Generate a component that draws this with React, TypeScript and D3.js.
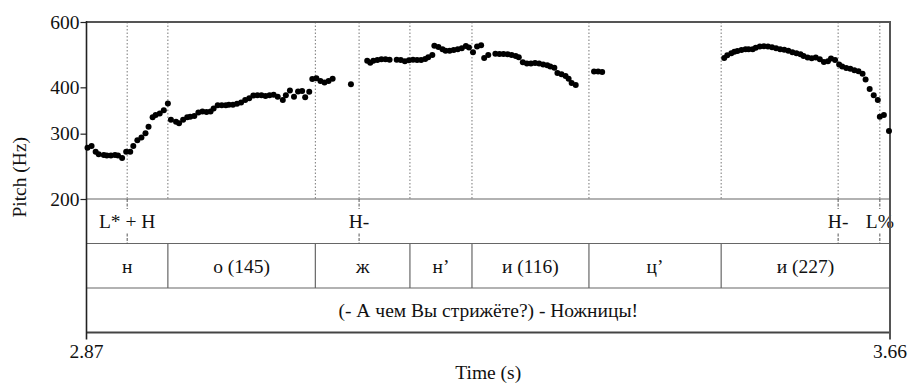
import { useEffect, useRef } from "react"
import * as d3 from "d3"

// pitch track (time in s, F0 in Hz)
const times = [
  2.871, 2.875, 2.879, 2.882, 2.887, 2.890, 2.894, 2.898, 2.901, 2.905,
  2.909, 2.913, 2.916, 2.920, 2.924, 2.928, 2.931, 2.935, 2.938, 2.942, 2.946, 2.950,
  2.953, 2.958, 2.961, 2.965, 2.969, 2.972, 2.976, 2.980, 2.984, 2.988, 2.992, 2.995,
  2.999, 3.003, 3.007, 3.010, 3.014, 3.018, 3.022, 3.026, 3.030, 3.034, 3.038, 3.042,
  3.046, 3.050, 3.054, 3.058, 3.063, 3.066, 3.070, 3.074, 3.078, 3.082, 3.085, 3.089,
  3.092, 3.096, 3.100, 3.104, 3.108, 3.112,
  3.130,
  3.146, 3.149, 3.152, 3.156, 3.160, 3.164, 3.168, 3.175, 3.179, 3.183, 3.187, 3.191,
  3.195, 3.199, 3.203, 3.206, 3.210, 3.212, 3.216, 3.220, 3.223, 3.227, 3.231, 3.235,
  3.239, 3.243, 3.246, 3.250, 3.254, 3.258, 3.261, 3.265, 3.272, 3.276, 3.280, 3.284,
  3.288, 3.292, 3.295, 3.299, 3.303, 3.307, 3.311, 3.315, 3.319, 3.323, 3.326, 3.330,
  3.333, 3.337, 3.341, 3.344, 3.347, 3.351,
  3.369, 3.373, 3.377,
  3.497, 3.500, 3.504, 3.507, 3.510, 3.514, 3.518, 3.521, 3.525, 3.528, 3.532, 3.536,
  3.540, 3.544, 3.548, 3.552, 3.556, 3.560, 3.564, 3.568, 3.572, 3.575, 3.579, 3.583,
  3.587, 3.591, 3.595, 3.599, 3.602, 3.606, 3.610, 3.613, 3.617, 3.621, 3.625, 3.629,
  3.633, 3.636, 3.640, 3.644, 3.648, 3.650, 3.654, 3.659,
]
const pitch = [
  275, 278, 268, 264, 263, 262, 262, 263, 262, 258,
  268, 268, 278, 288, 293, 301, 313, 332, 337, 340, 347, 362,
  327, 323, 320, 327, 332, 333, 335, 342, 344, 343, 344, 351,
  358, 358, 358, 359, 359, 361, 364, 370, 374, 380, 381, 381,
  379, 381, 382, 377, 370, 381, 392, 377, 390, 391, 376, 389,
  421, 423, 416, 412, 416, 422,
  408,
  472, 466, 472, 474, 476, 476, 475, 475, 474, 470, 473, 475,
  474, 474, 477, 482, 489, 518, 514, 507, 502, 502, 504, 507,
  510, 517, 512, 497, 515, 519, 480, 489, 493, 492, 492, 491,
  489, 486, 482, 467, 464, 464, 465, 464, 461, 459, 455, 452,
  437, 434, 429, 422, 411, 406,
  441, 441, 440,
  480, 488, 494, 499, 501, 504, 507, 507, 507, 511, 515, 516,
  515, 513, 510, 507, 505, 502, 497, 494, 491, 486, 481, 479,
  481, 476, 468, 470, 478, 474, 461, 455, 451, 449, 445, 442,
  435, 420, 396, 381, 370, 333, 337, 305,
]

// tone tier (points)
const toneTimes = [2.910, 3.138, 3.609, 3.650]
const toneLabels = ["L* + H", "H-", "H-", "L%"]

// segment tier (interval boundaries)
const segBounds = [2.87, 2.950, 3.095, 3.188, 3.249, 3.364, 3.494, 3.66]
const segLabels = ["н", "о (145)", "ж", "н’", "и (116)", "ц’", "и (227)"]

const sentence = "(- А чем Вы стрижёте?) - Ножницы!"
const yTicks = [200, 300, 400, 600]
const tStart = 2.87
const tEnd = 3.66

export default function App() {
  const svgRef = useRef<SVGSVGElement>(null)

  useEffect(() => {
    if (!svgRef.current) return
    const W = 909
    const H = 383
    const left = 86.5
    const right = 890
    const top = 22
    const pitchBottom = 199
    const tierH = 44.5
    const fs = 19.5

    const svg = d3
      .select(svgRef.current)
      .attr("width", W)
      .attr("height", H)
      .style("font-family", "'Liberation Serif', 'Times New Roman', serif")
    svg.selectAll("*").remove()

    const x = d3.scaleLinear().domain([tStart, tEnd]).range([left, right])
    const y = d3.scaleLog().domain([200, 600]).range([pitchBottom, top])
    const tierTop = (i: number) => pitchBottom + i * tierH
    const bottom = tierTop(3)

    // dotted boundary lines through pitch area
    const allBounds = [...toneTimes, ...segBounds.slice(1, -1)]
    svg
      .append("g")
      .selectAll("line")
      .data(allBounds)
      .enter()
      .append("line")
      .attr("x1", (d) => x(d))
      .attr("x2", (d) => x(d))
      .attr("y1", top)
      .attr("y2", pitchBottom)
      .attr("stroke", "#777")
      .attr("stroke-width", 1)
      .attr("stroke-dasharray", "1.5,2")

    // tier separators
    svg
      .append("g")
      .selectAll("line")
      .data([0, 1, 2])
      .enter()
      .append("line")
      .attr("x1", left)
      .attr("x2", right)
      .attr("y1", (d) => tierTop(d))
      .attr("y2", (d) => tierTop(d))
      .attr("stroke", "#666")
      .attr("stroke-width", 1.2)

    // tone tier: ticks at top and bottom, labels centred
    const tones = svg.append("g")
    toneTimes.forEach((t, i) => {
      tones
        .append("line")
        .attr("x1", x(t))
        .attr("x2", x(t))
        .attr("y1", tierTop(0))
        .attr("y2", tierTop(0) + 10)
        .attr("stroke", "#555")
        .attr("stroke-dasharray", "3,1.5")
      tones
        .append("line")
        .attr("x1", x(t))
        .attr("x2", x(t))
        .attr("y1", tierTop(1) - 10)
        .attr("y2", tierTop(1))
        .attr("stroke", "#555")
        .attr("stroke-dasharray", "3,1.5")
      tones
        .append("text")
        .attr("x", x(t))
        .attr("y", tierTop(0) + tierH / 2)
        .attr("dy", "0.35em")
        .attr("text-anchor", "middle")
        .attr("font-size", fs)
        .attr("fill", "#111")
        .text(toneLabels[i])
    })

    // segment tier
    const segs = svg.append("g")
    segBounds.slice(1, -1).forEach((b) => {
      segs
        .append("line")
        .attr("x1", x(b))
        .attr("x2", x(b))
        .attr("y1", tierTop(1))
        .attr("y2", tierTop(2))
        .attr("stroke", "#666")
        .attr("stroke-width", 1.2)
    })
    segLabels.forEach((lab, i) => {
      segs
        .append("text")
        .attr("x", (x(segBounds[i]) + x(segBounds[i + 1])) / 2)
        .attr("y", tierTop(1) + tierH / 2)
        .attr("dy", "0.35em")
        .attr("text-anchor", "middle")
        .attr("font-size", fs)
        .attr("fill", "#111")
        .text(lab)
    })

    // sentence tier
    svg
      .append("text")
      .attr("x", (left + right) / 2)
      .attr("y", tierTop(2) + tierH / 2)
      .attr("dy", "0.35em")
      .attr("text-anchor", "middle")
      .attr("font-size", fs)
      .attr("fill", "#111")
      .text(sentence)

    // frame
    svg
      .append("line")
      .attr("x1", left)
      .attr("x2", right)
      .attr("y1", top)
      .attr("y2", top)
      .attr("stroke", "#555")
      .attr("stroke-width", 2)
    svg
      .append("line")
      .attr("x1", left)
      .attr("x2", right + 1)
      .attr("y1", bottom)
      .attr("y2", bottom)
      .attr("stroke", "#444")
      .attr("stroke-width", 2)
    svg
      .append("line")
      .attr("x1", left)
      .attr("x2", left)
      .attr("y1", top - 1)
      .attr("y2", bottom + 7)
      .attr("stroke", "#222")
      .attr("stroke-width", 1.6)
    svg
      .append("line")
      .attr("x1", right)
      .attr("x2", right)
      .attr("y1", top - 1)
      .attr("y2", bottom + 7)
      .attr("stroke", "#555")
      .attr("stroke-width", 2)

    // y axis
    const yAxis = svg
      .append("g")
      .attr("transform", `translate(${left},0)`)
      .call(
        d3
          .axisLeft(y)
          .tickValues(yTicks)
          .tickFormat((d) => String(d))
          .tickSize(6)
          .tickSizeOuter(0),
      )
    yAxis.attr("font-family", null).attr("font-size", null)
    yAxis.select(".domain").remove()
    yAxis.selectAll("line").attr("stroke", "#222").attr("stroke-width", 1.2)
    yAxis
      .selectAll("text")
      .attr("font-size", fs)
      .attr("fill", "#111")
      .attr("x", -7)

    // x labels
    ;[tStart, tEnd].forEach((t) => {
      svg
        .append("text")
        .attr("x", x(t))
        .attr("y", bottom + 25)
        .attr("text-anchor", "middle")
        .attr("font-size", fs)
        .attr("fill", "#111")
        .text(t.toFixed(2))
    })

    svg
      .append("text")
      .attr("x", (left + right) / 2)
      .attr("y", 379)
      .attr("text-anchor", "middle")
      .attr("font-size", fs)
      .attr("fill", "#111")
      .text("Time (s)")

    svg
      .append("text")
      .attr("transform", `translate(26,${(top + bottom) / 2}) rotate(-90)`)
      .attr("text-anchor", "middle")
      .attr("font-size", fs)
      .attr("fill", "#111")
      .text("Pitch (Hz)")

    // pitch points
    svg
      .append("g")
      .selectAll("circle")
      .data(times.map((t, i) => ({ t, f: pitch[i] })))
      .enter()
      .append("circle")
      .attr("cx", (d) => x(d.t))
      .attr("cy", (d) => y(d.f))
      .attr("r", 3)
      .attr("fill", "#000")
  }, [])

  return (
    <>
      <style>{"body{margin:0}"}</style>
      <svg ref={svgRef} />
    </>
  )
}
